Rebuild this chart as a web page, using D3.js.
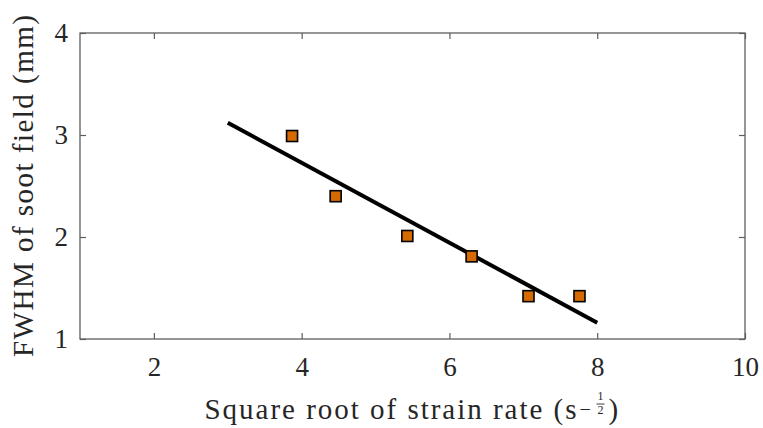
<!DOCTYPE html>
<html><head><meta charset="utf-8">
<script src="https://cdn.jsdelivr.net/npm/d3@7"></script>
<style>body{margin:0;background:#fff}svg{display:block}</style>
</head><body>
<svg id="c" width="763" height="428"></svg>
<script>
const xValues = [3.87, 4.46, 5.43, 6.30, 7.07, 7.76];
const yValues = [2.99, 2.40, 2.01, 1.81, 1.42, 1.42];
const fitX = [3.0, 8.0];
const fitY = [3.12, 1.16];
const xTicks = [2, 4, 6, 8, 10];
const yTicks = [1, 2, 3, 4];

const svg = d3.select("#c");
const m = {l: 80, r: 18, t: 33, b: 89};
const W = 763, H = 428;
const x = d3.scaleLinear().domain([1, 10]).range([m.l, W - m.r]);
const y = d3.scaleLinear().domain([1, 4]).range([H - m.b, m.t]);
const font = "'Liberation Serif', 'DejaVu Serif', serif";
const axisCol = "#5e5e5e";
const textCol = "#262626";

// box
svg.append("rect").attr("x", x(1)).attr("y", y(4)).attr("width", x(10) - x(1)).attr("height", y(1) - y(4))
  .attr("fill", "none").attr("stroke", axisCol).attr("stroke-width", 1.3);

const tl = 6;
const fmt = d3.format("d");
const bx = d3.axisBottom(x).tickValues(xTicks).tickSizeInner(-tl).tickSizeOuter(0).tickPadding(18).tickFormat(fmt);
const tx = d3.axisTop(x).tickValues(xTicks).tickSizeInner(-tl).tickSizeOuter(0).tickFormat("");
const ly = d3.axisLeft(y).tickValues(yTicks).tickSizeInner(-tl).tickSizeOuter(0).tickPadding(12).tickFormat(fmt);
const ry = d3.axisRight(y).tickValues(yTicks).tickSizeInner(-tl).tickSizeOuter(0).tickFormat("");

function style(sel) {
  sel.select(".domain").remove();
  sel.selectAll(".tick line").attr("stroke", axisCol).attr("stroke-width", 1.2);
  sel.selectAll(".tick text").attr("fill", textCol).style("font-family", font).style("font-size", "27px");
}
svg.append("g").attr("transform", `translate(0,${y(1)})`).call(bx).call(style);
svg.append("g").attr("transform", `translate(0,${y(4)})`).call(tx).call(style);
svg.append("g").attr("transform", `translate(${x(1)},0)`).call(ly).call(style);
svg.append("g").attr("transform", `translate(${x(10)},0)`).call(ry).call(style);

// fit line
svg.append("path").datum(d3.zip(fitX, fitY))
  .attr("d", d3.line().x(d => x(d[0])).y(d => y(d[1])))
  .attr("stroke", "#000").attr("stroke-width", 4).attr("fill", "none");

// markers
const s = 11;
svg.append("g").selectAll("rect").data(d3.zip(xValues, yValues)).join("rect")
  .attr("x", d => x(d[0]) - s / 2).attr("y", d => y(d[1]) - s / 2)
  .attr("width", s).attr("height", s)
  .attr("fill", "#d46a00").attr("stroke", "#000").attr("stroke-width", 1.6);

// x label
const cx = (x(1) + x(10)) / 2;
const x0 = cx - 208, base = 419;
const lab = svg.append("g").attr("fill", textCol).style("font-family", font);
lab.append("text").attr("x", x0).attr("y", base).style("font-size", "29px")
  .attr("textLength", 372).attr("lengthAdjust", "spacing")
  .text("Square root of strain rate (s");
lab.append("text").attr("x", x0 + 375).attr("y", base - 3).style("font-size", "20px").text("−");
lab.append("text").attr("x", x0 + 396).attr("y", base - 19).attr("text-anchor", "middle").style("font-size", "12px").text("1");
lab.append("line").attr("x1", x0 + 392).attr("x2", x0 + 400).attr("y1", base - 15).attr("y2", base - 15)
  .attr("stroke", textCol).attr("stroke-width", 0.9);
lab.append("text").attr("x", x0 + 396).attr("y", base - 5).attr("text-anchor", "middle").style("font-size", "12px").text("2");
lab.append("text").attr("x", x0 + 404).attr("y", base).style("font-size", "29px").text(")");

// y label
svg.append("text").attr("transform", `translate(33,${(y(1) + y(4)) / 2}) rotate(-90)`)
  .attr("text-anchor", "middle").attr("fill", textCol)
  .attr("textLength", 342).attr("lengthAdjust", "spacing")
  .style("font-family", font).style("font-size", "29px")
  .text("FWHM of soot field (mm)");
</script>
</body></html>
